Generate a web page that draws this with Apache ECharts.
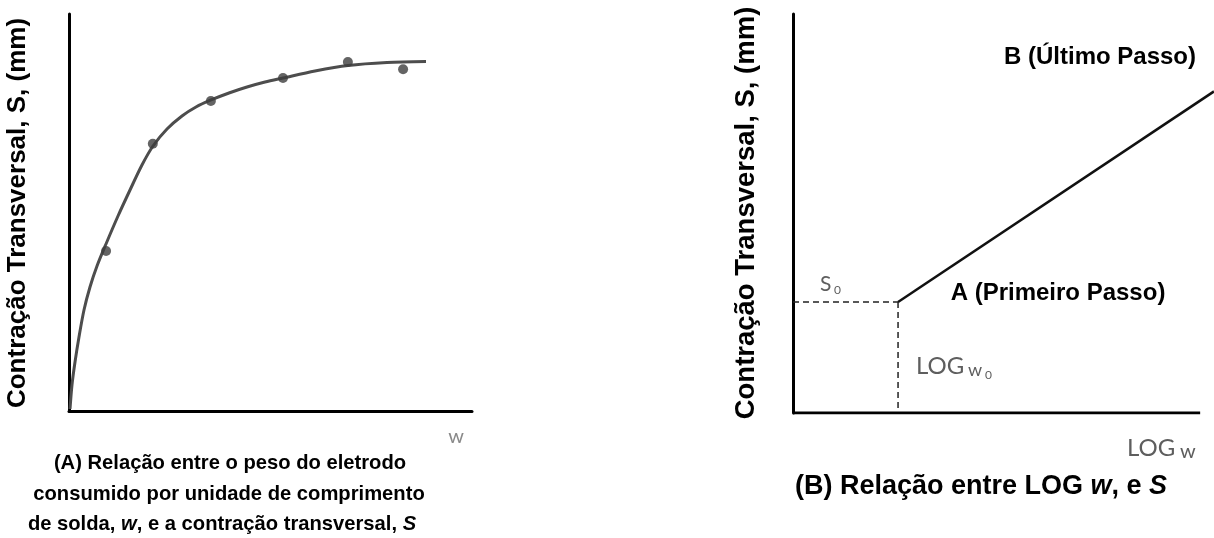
<!DOCTYPE html>
<html>
<head>
<meta charset="utf-8">
<script src="https://cdn.jsdelivr.net/npm/echarts@6/dist/echarts.min.js"></script>
<style>
  html, body { margin: 0; padding: 0; background: #fff; }
  #chart { width: 1214px; height: 538px; }
</style>
</head>
<body>
<div id="chart"></div>
<script>
// Panel A: fitted shrinkage curve S(w) and measured points (relative units 0–100)
const curveW = [0.25, 0.74, 1.49, 2.48, 3.72, 5.21, 6.95, 9.18, 12.16, 15.14, 18.11, 20.84,
                24.32, 28.04, 31.51, 35.24, 39.70, 44.17, 48.64, 53.10, 61.04, 69.23, 78.91, 88.59];
const curveS = [0.50, 6.55, 12.34, 18.64, 25.44, 31.23, 36.52, 42.07, 49.12, 55.67, 61.96, 66.75,
                71.03, 74.31, 76.57, 78.34, 80.10, 81.61, 82.87, 83.88, 85.64, 87.03, 87.78, 88.04];
const pointsW = [9.2, 20.8, 35.2, 53.1, 69.2, 82.9];
const pointsS = [40.3, 67.3, 78.1, 83.9, 87.9, 86.1];

// Panel B: linear relation between LOG w and S, from first pass (A) to last pass (B)
const logW0 = 25.8;
const S0 = 27.8;
const lineLogW = [logW0, 103.4];
const lineS = [S0, 80.6];
const baseLogW = [0, 100];   // extent of the drawn LOG w axis
const baseS = [0, 0];

const zip = (a, b) => a.map((v, i) => [v, b[i]]);

const BOLD = '"Liberation Sans", Arial, sans-serif';
const SOFT = 'Lato, "Open Sans", sans-serif';
const GREY = '#5e5e5e';

function axisStyle(idx, max, showLine) {
  return {
    type: 'value', gridIndex: idx, min: 0, max: max,
    axisLine: { show: showLine, onZero: false, lineStyle: { color: '#000', width: 3 } },
    axisTick: { show: false }, axisLabel: { show: false }, splitLine: { show: false }
  };
}

function txt(x, y, text, extra) {
  return {
    type: 'text', x: x, y: y, silent: true,
    style: Object.assign({
      text: text, fill: '#000', font: 'bold 20px ' + BOLD,
      align: 'center', verticalAlign: 'middle'
    }, extra || {})
  };
}

function richFor(size) {
  return {
    i: { fontFamily: BOLD, fontWeight: 'bold', fontStyle: 'italic', fontSize: size, fill: '#000' },
    n: { fontFamily: BOLD, fontWeight: 'bold', fontSize: size, fill: '#000' }
  };
}

const chart = echarts.init(document.getElementById('chart'), null, { renderer: 'canvas' });

chart.setOption({
  animation: false,
  backgroundColor: '#fff',
  grid: [
    { left: 69, top: 14, width: 403, height: 397 },
    { left: 793, top: 14, width: 421, height: 399 }
  ],
  xAxis: [axisStyle(0, 100, true), axisStyle(1, 103.4, false)],
  yAxis: [axisStyle(0, 100, true), axisStyle(1, 100, true)],
  series: [
    {
      type: 'line', xAxisIndex: 0, yAxisIndex: 0,
      data: zip(curveW, curveS), smooth: 0.3,
      symbol: 'none', lineStyle: { color: '#4d4d4d', width: 3 }, z: 3
    },
    {
      type: 'scatter', xAxisIndex: 0, yAxisIndex: 0,
      data: zip(pointsW, pointsS), symbolSize: 10,
      itemStyle: { color: '#3d3d3d' }, z: 4
    },
    {
      // LOG w axis baseline
      type: 'line', xAxisIndex: 1, yAxisIndex: 1,
      data: zip(baseLogW, baseS), symbol: 'none',
      lineStyle: { color: '#000', width: 3 }, z: 5
    },
    {
      type: 'line', xAxisIndex: 1, yAxisIndex: 1,
      data: [[0, S0], [logW0, S0]], symbol: 'none',
      lineStyle: { color: '#222', width: 1.5, type: [6, 4] }
    },
    {
      type: 'line', xAxisIndex: 1, yAxisIndex: 1,
      data: [[logW0, S0], [logW0, 0]], symbol: 'none',
      lineStyle: { color: '#222', width: 1.5, type: [6, 4] }
    },
    {
      type: 'line', xAxisIndex: 1, yAxisIndex: 1,
      data: zip(lineLogW, lineS), symbol: 'none',
      lineStyle: { color: '#111', width: 2.5 }, z: 3
    }
  ],
  graphic: [
    // axis titles
    Object.assign(txt(18, 213, 'Contração Transversal, S, (mm)', { font: 'bold 26px ' + BOLD }), { rotation: Math.PI / 2 }),
    Object.assign(txt(746, 213, 'Contração Transversal, S, (mm)', { font: 'bold 27.5px ' + BOLD }), { rotation: Math.PI / 2 }),
    // panel A axis variable
    txt(456, 437, 'w', { font: '20px ' + SOFT, fill: '#8a8a8a' }),
    // panel A caption
    txt(230, 463, '(A) Relação entre o peso do eletrodo', { font: 'bold 20.2px ' + BOLD }),
    txt(229, 494, 'consumido por unidade de comprimento', { font: 'bold 20.2px ' + BOLD }),
    {
      type: 'text', x: 222, y: 524, silent: true,
      style: {
        text: '{n|de solda, }{i|w}{n|, e a contração transversal, }{i|S}',
        rich: richFor(20.2), align: 'center', verticalAlign: 'middle'
      }
    },
    // panel B annotations
    txt(1100, 57, 'B (Último Passo)', { font: 'bold 24px ' + BOLD }),
    txt(1058, 293, 'A (Primeiro Passo)', { font: 'bold 24px ' + BOLD }),
    txt(820, 284, 'S', { font: '21px ' + SOFT, fill: GREY, align: 'left' }),
    txt(834, 290, '0', { font: '12px ' + SOFT, fill: GREY, align: 'left' }),
    txt(916, 366, 'LOG', { font: '24px ' + SOFT, fill: GREY, align: 'left' }),
    txt(968, 370, 'w', { font: '18px ' + SOFT, fill: GREY, align: 'left' }),
    txt(985, 375, '0', { font: '12px ' + SOFT, fill: GREY, align: 'left' }),
    txt(1127, 448, 'LOG', { font: '24px ' + SOFT, fill: GREY, align: 'left' }),
    txt(1180, 452, 'w', { font: '20px ' + SOFT, fill: GREY, align: 'left' }),
    // panel B caption
    {
      type: 'text', x: 981, y: 487, silent: true,
      style: {
        text: '{n|(B) Relação entre LOG }{i|w}{n|, e }{i|S}',
        rich: richFor(27), align: 'center', verticalAlign: 'middle'
      }
    }
  ]
});
</script>
</body>
</html>
